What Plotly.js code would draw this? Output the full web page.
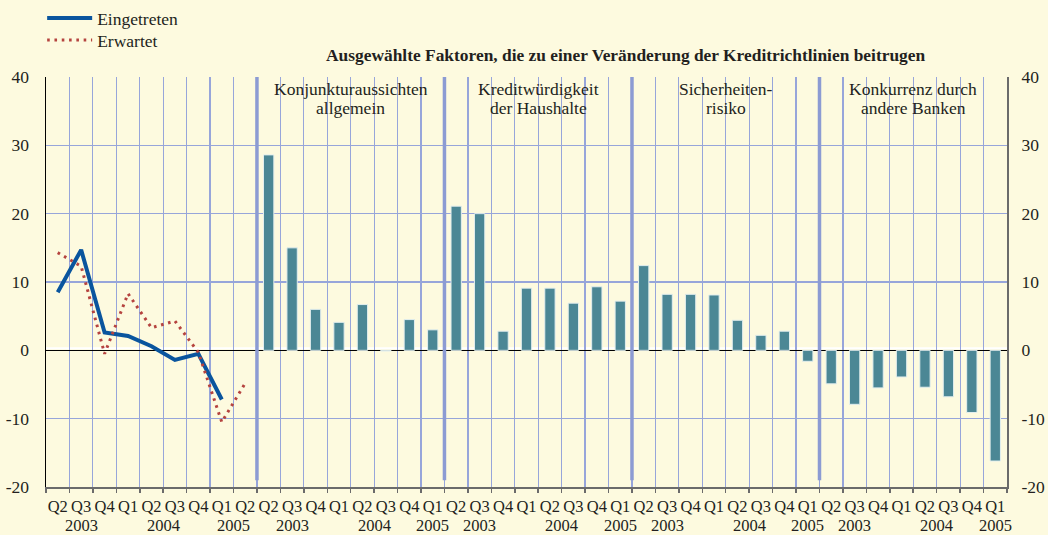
<!DOCTYPE html>
<html><head><meta charset="utf-8">
<script src="https://cdn.plot.ly/plotly-3.0.1.min.js"></script>
<style>html,body{margin:0;padding:0;background:#FDFADF;}#chart{width:1048px;height:535px;}</style>
</head><body><div id="chart"></div>
<script>
// ---- data ----
const lineQuarters = ['Q2','Q3','Q4','Q1','Q2','Q3','Q4','Q1','Q2'];
const lineYears    = ['2003','2003','2003','2004','2004','2004','2004','2005','2005'];
const barQuarters  = ['Q2','Q3','Q4','Q1','Q2','Q3','Q4','Q1'];
const barYears     = ['2003','2003','2003','2004','2004','2004','2004','2005'];

const eingetreten = [8.5, 14.7, 2.6, 2.1, 0.6, -1.4, -0.5, -7.2];
const erwartet    = [14.3, 12.3, -0.5, 8.3, 3.3, 4.3, -0.3, -10.5, -4.8];

const groupNames = [
  ['Konjunkturaussichten', 'allgemein'],
  ['Kreditwürdigkeit', 'der Haushalte'],
  ['Sicherheiten-', 'risiko'],
  ['Konkurrenz durch', 'andere Banken']
];
const konjunktur        = [28.6, 15.0, 6.0, 4.1, 6.7, -0.1, 4.5, 3.0];
const kreditwuerdigkeit = [21.1, 20.0, 2.8, 9.1, 9.1, 6.9, 9.3, 7.2];
const sicherheiten      = [12.4, 8.2, 8.2, 8.1, 4.4, 2.2, 2.8, -1.6];
const konkurrenz        = [-4.9, -7.9, -5.5, -3.9, -5.4, -6.8, -9.1, -16.2];
const barGroups = [konjunktur, kreditwuerdigkeit, sicherheiten, konkurrenz];

const legendNames = ['Eingetreten', 'Erwartet'];
const titleText = 'Ausgewählte Faktoren, die zu einer Veränderung der Kreditrichtlinien beitrugen';
const yTicks = [-20, -10, 0, 10, 20, 30, 40];

// ---- build ----
const FONT = 'Liberation Serif, Times New Roman, serif';
const TXT = '#231f20';
const allQuarters = lineQuarters.slice();
const allYearsGroups = [lineYears];
let barX = [], barY = [];
const sepPositions = [];
let offset = lineQuarters.length;
barGroups.forEach(g => {
  sepPositions.push(offset - 0.5);
  g.forEach((v, i) => { barX.push(offset + i); barY.push(v); });
  barQuarters.forEach(q => allQuarters.push(q));
  allYearsGroups.push(barYears);
  offset += g.length;
});
const N = allQuarters.length;
const centers = allQuarters.map((_, i) => i);
const boundaries = [];
for (let i = 0; i <= N; i++) boundaries.push(i - 0.5);
const yTickText = yTicks.map(v => String(v));

const traces = [
  { x: barX, y: barY, type: 'bar', xaxis: 'x2', width: 0.44,
    marker: { color: '#4B8795', line: { color: '#E2EEEE', width: 1 } },
    showlegend: false, hoverinfo: 'skip' },
  { x: eingetreten.map((_, i) => i), y: eingetreten, type: 'scatter', mode: 'lines',
    name: legendNames[0], legend: 'legend', line: { color: '#0A559E', width: 4 } },
  { x: erwartet.map((_, i) => i), y: erwartet, type: 'scatter', mode: 'lines',
    name: legendNames[1], legend: 'legend2', line: { color: '#B5433F', width: 3, dash: '2.6px,4.7px' } }
];

const annotations = [];
let start = 0;
allYearsGroups.forEach(yrs => {
  let i = 0;
  while (i < yrs.length) {
    let j = i;
    while (j + 1 < yrs.length && yrs[j + 1] === yrs[i]) j++;
    annotations.push({ x: start + (i + j) / 2, xref: 'x', y: -0.094, yref: 'paper',
      text: yrs[i], showarrow: false, xanchor: 'center', yanchor: 'middle',
      font: { family: FONT, size: 16.5, color: TXT } });
    i = j + 1;
  }
  start += yrs.length;
});
barGroups.forEach((g, k) => {
  const c = sepPositions[k] + g.length / 2;
  annotations.push({ x: c, xref: 'x', y: 0.971, yref: 'paper', text: groupNames[k][0],
    showarrow: false, xanchor: 'center', yanchor: 'middle', font: { family: FONT, size: 17.5, color: TXT } });
  annotations.push({ x: c, xref: 'x', y: 0.925, yref: 'paper', text: groupNames[k][1],
    showarrow: false, xanchor: 'center', yanchor: 'middle', font: { family: FONT, size: 17.5, color: TXT } });
});
annotations.push({ x: 0.6025, xref: 'paper', y: 1.054, yref: 'paper', text: '<b>' + titleText + '</b>',
  showarrow: false, xanchor: 'center', yanchor: 'middle', font: { family: FONT, size: 17.4, color: TXT } });

const shapes = sepPositions.map((p, k) => ({
  type: 'line', xref: 'x', yref: 'y', x0: p, x1: p, y0: -19, y1: k === 0 ? 44.7 : 40,
  line: { color: '#8C9BD3', width: 3.5 }, layer: 'above'
}));
// thin white band just above the zero line
shapes.push({ type: 'rect', xref: 'paper', x0: 0, x1: 1, yref: 'y', ysizemode: 'pixel', yanchor: 0,
  y0: 1, y1: 3, fillcolor: '#FFFFFF', line: { width: 0 }, layer: 'below' });

const legendBase = { xanchor: 'left', yanchor: 'top', itemwidth: 45,
  bgcolor: 'rgba(0,0,0,0)', font: { family: FONT, size: 17.5, color: TXT } };

const layout = {
  width: 1048, height: 535,
  paper_bgcolor: '#FDFADF', plot_bgcolor: '#FDFADF',
  margin: { l: 46, r: 41, t: 77, b: 48, autoexpand: false },
  font: { family: FONT, color: TXT },
  bargap: 0,
  xaxis: { range: [-0.5, N - 0.5], tickmode: 'array', tickvals: centers, ticktext: allQuarters,
    ticks: '', tickangle: 0, automargin: false, showgrid: false, zeroline: false, showline: true,
    linecolor: '#6b6b6b', linewidth: 1.5, ticklabelstandoff: 4,
    tickfont: { family: FONT, size: 16.5, color: TXT }, fixedrange: true },
  xaxis2: { overlaying: 'x', side: 'bottom', range: [-0.5, N - 0.5], tickmode: 'array', tickvals: boundaries,
    ticks: 'outside', ticklen: 5, tickcolor: '#6b6b6b', tickwidth: 1.5, showticklabels: false, automargin: false,
    showgrid: true, gridcolor: '#97A5DA', gridwidth: 1.2, zeroline: false, showline: false, fixedrange: true },
  yaxis: { range: [-20, 40], tickmode: 'array', tickvals: yTicks, ticktext: yTickText, ticks: '', showgrid: true,
    automargin: false, gridcolor: '#97A5DA', gridwidth: 1.2, zeroline: true, zerolinecolor: '#000', zerolinewidth: 1.5,
    showline: true, linecolor: '#000', linewidth: 1.5, ticklabelstandoff: 12,
    tickfont: { family: FONT, size: 17.5, color: TXT }, fixedrange: true },
  yaxis2: { overlaying: 'y', side: 'right', range: [-20, 40], tickmode: 'array', tickvals: yTicks, ticktext: yTickText,
    ticks: '', automargin: false, showgrid: false, zeroline: false, showline: true, linecolor: '#6b6b6b', linewidth: 2,
    ticklabelstandoff: 9, tickfont: { family: FONT, size: 17.5, color: TXT }, fixedrange: true },
  showlegend: true,
  legend: Object.assign({}, legendBase, { x: -0.004, y: 1.1878 }),
  legend2: Object.assign({}, legendBase, { x: -0.004, y: 1.134 }),
  annotations: annotations,
  shapes: shapes
};
traces.push({ x: [0], y: [0], yaxis: 'y2', type: 'scatter', mode: 'markers', marker: { opacity: 0 },
  showlegend: false, hoverinfo: 'skip' });

Plotly.newPlot('chart', traces, layout, { displayModeBar: false, staticPlot: true });
</script></body></html>
